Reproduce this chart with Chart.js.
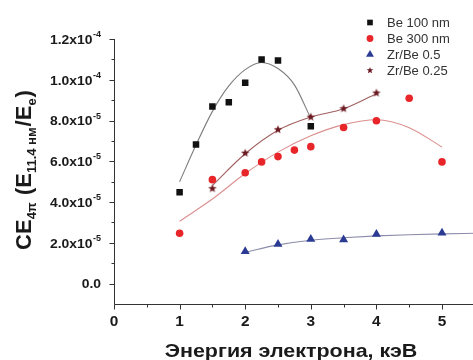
<!DOCTYPE html>
<html><head><meta charset="utf-8">
<script src="https://cdn.jsdelivr.net/npm/chart.js@4.4.0/dist/chart.umd.min.js"></script>
<style>html,body{margin:0;padding:0;background:#fff;overflow:hidden;width:473px;height:360px}#wrap{position:relative;width:520px;height:360px}</style>
</head><body><div id="wrap"><canvas id="c" width="520" height="360"></canvas></div>
<script>
// ---- data ----
const be100X = [1, 1.25, 1.5, 1.75, 2, 2.25, 2.5, 3];
const be100Y = [4.48e-5, 6.82e-5, 8.69e-5, 8.9e-5, 9.85e-5, 1.10e-4, 1.094e-4, 7.72e-5];
const be300X = [1, 1.5, 2, 2.25, 2.5, 2.75, 3, 3.5, 4, 4.5, 5];
const be300Y = [2.47e-5, 5.1e-5, 5.44e-5, 5.97e-5, 6.23e-5, 6.55e-5, 6.72e-5, 7.66e-5, 7.99e-5, 9.09e-5, 5.97e-5];
const zr05X = [2, 2.5, 3, 3.5, 4, 5];
const zr05Y = [1.58e-5, 1.93e-5, 2.18e-5, 2.16e-5, 2.43e-5, 2.49e-5];
const zr025X = [1.5, 2, 2.5, 3, 3.5, 4];
const zr025Y = [4.68e-5, 6.42e-5, 7.57e-5, 8.19e-5, 8.6e-5, 9.37e-5];
// fitted curves
const fitBe100X = [1.0, 1.25, 1.5, 1.75, 2.0, 2.25, 2.5, 2.75, 3.0];
const fitBe100Y = [5.0e-5, 6.8e-5, 8.45e-5, 9.7e-5, 10.5e-5, 10.85e-5, 10.55e-5, 9.75e-5, 8.1e-5];
const fitBe300X = [1.0, 1.5, 2.0, 2.5, 3.0, 3.5, 4.0, 4.5, 5.0];
const fitBe300Y = [3.06e-5, 4.15e-5, 5.4e-5, 6.45e-5, 7.25e-5, 7.8e-5, 8.04e-5, 7.65e-5, 6.7e-5];
const fitZr025X = [1.5, 2, 2.5, 3, 3.5, 4];
const fitZr025Y = [4.82e-5, 6.37e-5, 7.52e-5, 8.17e-5, 8.58e-5, 9.32e-5];
const fitZr05X = [2, 2.5, 3, 3.5, 4, 4.5, 5, 5.5];
const fitZr05Y = [1.54e-5, 1.9e-5, 2.13e-5, 2.25e-5, 2.34e-5, 2.4e-5, 2.44e-5, 2.47e-5];
// tick labels
const xTickValues = [0, 1, 2, 3, 4, 5];
const xTickLabels = ['0', '1', '2', '3', '4', '5'];
const yTickValues = [1.2e-4, 1.0e-4, 8.0e-5, 6.0e-5, 4.0e-5, 2.0e-5, 0];
const yTickBases = ['1.2x10', '1.0x10', '8.0x10', '6.0x10', '4.0x10', '2.0x10', '0.0'];
const yTickExps = ['-4', '-4', '-5', '-5', '-5', '-5', ''];
const seriesNames = ['Be 100 nm', 'Be 300 nm', 'Zr/Be 0.5', 'Zr/Be 0.25'];

function pts(xs, ys) { return xs.map((x, i) => ({ x: x, y: ys[i] })); }

function makeStar(size, ro, ri) {
  const c = document.createElement('canvas');
  c.width = size; c.height = size;
  const g = c.getContext('2d');
  g.fillStyle = '#6b1a22';
  g.beginPath();
  for (let i = 0; i < 10; i++) {
    const r = i % 2 ? ri : ro;
    const a = -Math.PI / 2 + i * Math.PI / 5;
    const px = size / 2 + r * Math.cos(a), py = size / 2 + 0.4 + r * Math.sin(a);
    if (i) g.lineTo(px, py); else g.moveTo(px, py);
  }
  g.closePath(); g.fill();
  return c;
}
const starImg = makeStar(10, 4.4, 1.9);
const starLeg = makeStar(8, 3.5, 1.5);

const markers = [
  { style: 'rect', color: '#111111', radius: 4.6 },
  { style: 'circle', color: '#e8262a', radius: 3.8 },
  { style: 'triangle', color: '#2b3a93', radius: 5.2 },
  { style: starImg, color: '#6b1a22', radius: 4.5 }
];
const legMarkers = [
  { style: 'rect', radius: 4.0 },
  { style: 'circle', radius: 3.4 },
  { style: 'triangle', radius: 4.6 },
  { style: starLeg, radius: 4 }
];

function scatterDs(name, xs, ys, m) {
  return { label: name, data: pts(xs, ys), showLine: false, pointStyle: m.style,
    pointRadius: m.radius, pointBackgroundColor: m.color, pointBorderColor: m.color,
    pointBorderWidth: 0, order: 0 };
}
function fitDs(xs, ys, color) {
  return { label: 'fit', data: pts(xs, ys), showLine: true, pointRadius: 0, borderColor: color,
    borderWidth: 1.1, cubicInterpolationMode: 'monotone', fill: false, order: 1 };
}

function stretchText(ctx, text, x, y, sx, align) {
  ctx.save();
  const w = ctx.measureText(text).width * sx;
  let x0 = x;
  if (align === 'right') x0 = x - w; else if (align === 'center') x0 = x - w / 2;
  ctx.translate(x0, y); ctx.scale(sx, 1);
  ctx.textAlign = 'left';
  ctx.fillText(text, 0, 0);
  ctx.restore();
  return w;
}

const decor = {
  id: 'decor',
  afterDraw(chart) {
    const ctx = chart.ctx, xs = chart.scales.x, ys = chart.scales.y, a = chart.chartArea;
    ctx.save();
    ctx.strokeStyle = '#333'; ctx.lineWidth = 1;
    const L = Math.round(a.left) + 0.5, B = Math.round(a.bottom) + 0.5;
    ctx.beginPath();
    ctx.moveTo(L, Math.round(a.top)); ctx.lineTo(L, B);
    ctx.lineTo(a.right, B);
    for (let k = 0; k <= 12; k++) {
      const py = Math.round(ys.getPixelForValue(k * 1e-5)) + 0.5;
      const len = (k % 2 === 0) ? 5 : 3;
      ctx.moveTo(L - len, py); ctx.lineTo(L, py);
    }
    for (let k = 0; k <= 12; k++) {
      const px = Math.round(xs.getPixelForValue(k * 0.5)) + 0.5;
      const len = (k % 2 === 0) ? 5 : 3;
      ctx.moveTo(px, B); ctx.lineTo(px, B + len);
    }
    ctx.stroke();

    ctx.fillStyle = '#1a1a1a';
    ctx.textBaseline = 'alphabetic';
    yTickValues.forEach((v, i) => {
      const py = ys.getPixelForValue(v);
      const exp = yTickExps[i];
      ctx.font = 'bold 9px Arial, "Liberation Sans", sans-serif';
      const ew = exp ? ctx.measureText(exp).width : 0;
      const right = 101;
      if (exp) ctx.fillText(exp, right - ew, py - 2);
      ctx.font = 'bold 13px Arial, "Liberation Sans", sans-serif';
      stretchText(ctx, yTickBases[i], right - ew - (exp ? 0.5 : 0), py + 4.8, 1.07, 'right');
    });
    ctx.font = 'bold 14px Arial, "Liberation Sans", sans-serif';
    xTickValues.forEach((v, i) => {
      const px = xs.getPixelForValue(v);
      stretchText(ctx, xTickLabels[i], px, 325.5, 1.1, 'center');
    });
    ctx.font = 'bold 19px Arial, "Liberation Sans", sans-serif';
    stretchText(ctx, 'Энергия электрона, кэВ', 291, 357, 1.13, 'center');

    const segs = [
      ['CE', 0], ['4π', 1], [' (E', 0], ['11.4 нм', 1], ['/E', 0], ['e', 1], [')', 0]
    ];
    const fMain = 'bold 22px Arial, "Liberation Sans", sans-serif';
    const fSub = 'bold 13px Arial, "Liberation Sans", sans-serif';
    let total = 0;
    segs.forEach(s => { ctx.font = s[1] ? fSub : fMain; total += ctx.measureText(s[0]).width + (s[1] ? 1 : 0); });
    ctx.save();
    ctx.translate(31, 170);
    ctx.rotate(-Math.PI / 2);
    let cx = -total / 2;
    segs.forEach(s => {
      ctx.font = s[1] ? fSub : fMain;
      ctx.fillText(s[0], cx, s[1] ? 5 : 0);
      cx += ctx.measureText(s[0]).width + (s[1] ? 1 : 0);
    });
    ctx.restore();

    const legY = [22.5, 38.5, 54.5, 70];
    ctx.font = '13px Arial, "Liberation Sans", sans-serif';
    seriesNames.forEach((n, i) => {
      const m = markers[i], lm = legMarkers[i];
      ctx.fillStyle = m.color; ctx.strokeStyle = m.color;
      Chart.helpers.drawPoint(ctx, { pointStyle: lm.style, radius: lm.radius, rotation: 0, borderWidth: 0 }, 370, legY[i]);
      ctx.fillStyle = '#333';
      ctx.fillText(n, 387, legY[i] + 4.7);
    });
    ctx.restore();
  }
};

new Chart(document.getElementById('c'), {
  type: 'scatter',
  data: {
    datasets: [
      fitDs(fitBe100X, fitBe100Y, '#7c7c7c'),
      fitDs(fitBe300X, fitBe300Y, '#dc8f8f'),
      fitDs(fitZr05X, fitZr05Y, '#8c8cab'),
      fitDs(fitZr025X, fitZr025Y, '#a06060'),
      scatterDs(seriesNames[0], be100X, be100Y, markers[0]),
      scatterDs(seriesNames[1], be300X, be300Y, markers[1]),
      scatterDs(seriesNames[2], zr05X, zr05Y, markers[2]),
      scatterDs(seriesNames[3], zr025X, zr025Y, markers[3])
    ]
  },
  options: {
    responsive: false, animation: false,
    layout: { padding: { left: 114, top: 39, right: 12.4, bottom: 56 } },
    plugins: { legend: { display: false }, tooltip: { enabled: false } },
    scales: {
      x: { type: 'linear', min: 0, max: 6, display: false },
      y: { type: 'linear', min: -1e-5, max: 1.2e-4, display: false }
    }
  },
  plugins: [decor]
});
</script></body></html>
